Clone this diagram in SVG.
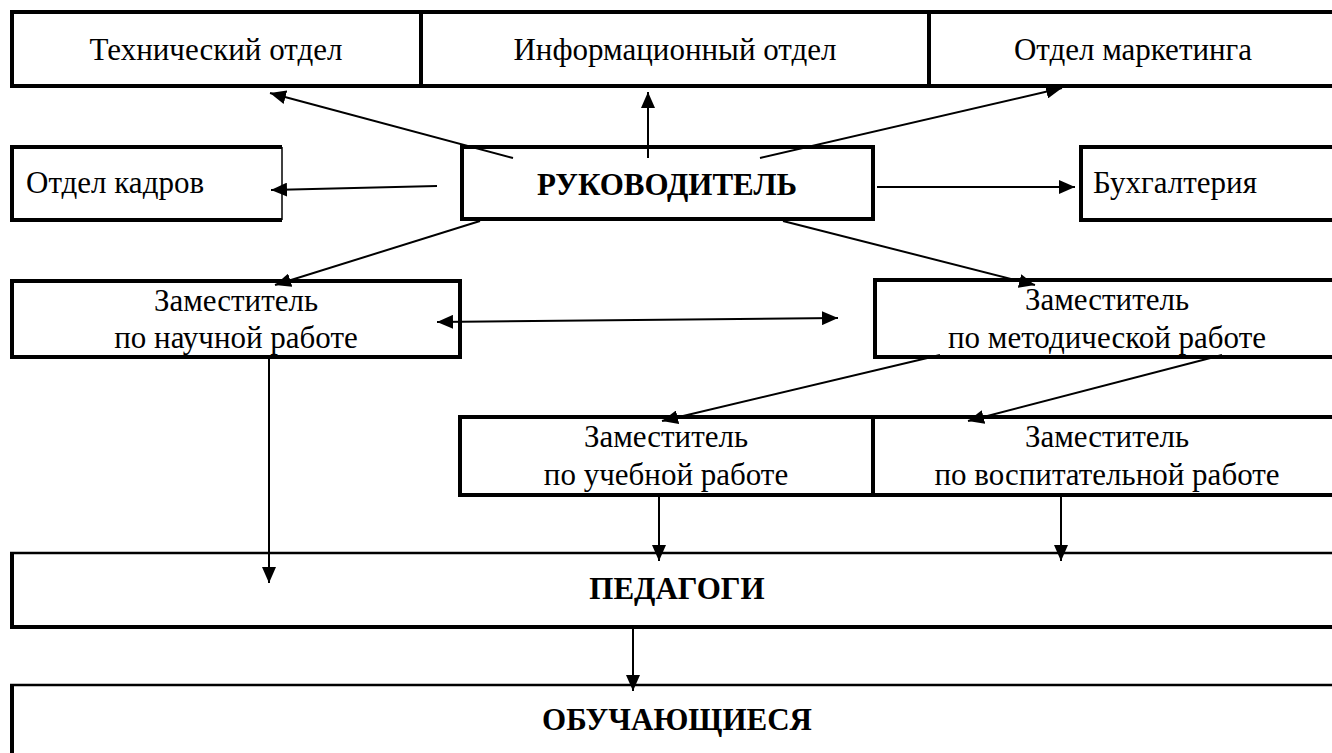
<svg xmlns="http://www.w3.org/2000/svg" width="1332" height="753" viewBox="0 0 1332 753">
<style>
.bx{fill:#fff;stroke:#000;stroke-width:4}
.ln{fill:none;stroke:#000}
.t{font-size:31px;fill:#000}
.c{text-anchor:middle}
.b{font-weight:bold}
.cn line{stroke:#000;stroke-width:2;marker-end:url(#ah)}
</style>
<defs>
<marker id="ah" markerUnits="userSpaceOnUse" markerWidth="16" markerHeight="14" refX="16" refY="7" orient="auto-start-reverse">
<path d="M0,0 L16,7 L0,14 z" fill="#000"/>
</marker>
</defs>
<rect width="1332" height="753" fill="#fff"/>
<g font-family="Liberation Serif, DejaVu Serif, serif">
<g id="tech">
<rect class="bx" x="12" y="12" width="409" height="74"/>
<text class="t c" x="216" y="60">Технический отдел</text>
</g>
<g id="info">
<rect class="bx" x="421" y="12" width="508" height="74"/>
<text class="t c" x="675" y="60">Информационный отдел</text>
</g>
<g id="market">
<rect class="bx" x="929" y="12" width="412" height="74"/>
<text class="t c" x="1133" y="60">Отдел маркетинга</text>
</g>
<g id="kadry">
<rect x="12" y="147" width="270" height="73" fill="#fff"/>
<path class="ln" stroke-width="4" d="M282,147 H12 V220 H282"/>
<line class="ln" stroke-width="1.5" x1="282" y1="147" x2="282" y2="220"/>
<text class="t" x="26" y="193">Отдел кадров</text>
</g>
<g id="head">
<rect class="bx" x="462" y="147" width="411" height="72" stroke-width="6"/>
<text class="t c b" x="667" y="195">РУКОВОДИТЕЛЬ</text>
</g>
<g id="buh">
<rect class="bx" x="1081" y="147" width="260" height="73"/>
<text class="t" x="1093" y="193">Бухгалтерия</text>
</g>
<g id="zam-nauch">
<rect class="bx" x="12" y="281" width="448" height="76"/>
<text class="t c" x="236" y="311">Заместитель</text>
<text class="t c" x="236" y="348">по научной работе</text>
</g>
<g id="zam-metod">
<rect class="bx" x="875" y="280" width="466" height="77"/>
<text class="t c" x="1107" y="310">Заместитель</text>
<text class="t c" x="1107" y="348">по методической работе</text>
</g>
<g id="zam-ucheb">
<rect class="bx" x="460" y="417" width="413" height="78"/>
<text class="t c" x="666" y="447">Заместитель</text>
<text class="t c" x="666" y="485">по учебной работе</text>
</g>
<g id="zam-vosp">
<rect class="bx" x="873" y="417" width="468" height="78"/>
<text class="t c" x="1107" y="447">Заместитель</text>
<text class="t c" x="1107" y="485">по воспитательной работе</text>
</g>
<g id="pedagogi">
<rect x="12" y="553" width="1330" height="74" fill="#fff"/>
<line class="ln" stroke-width="2.5" x1="10" y1="553" x2="1342" y2="553"/>
<line class="ln" stroke-width="4" x1="10" y1="627" x2="1342" y2="627"/>
<line class="ln" stroke-width="4" x1="12" y1="553" x2="12" y2="629"/>
<text class="t c b" x="677" y="599">ПЕДАГОГИ</text>
</g>
<g id="obuch">
<rect x="12" y="685" width="1330" height="80" fill="#fff"/>
<line class="ln" stroke-width="2.5" x1="10" y1="685" x2="1342" y2="685"/>
<line class="ln" stroke-width="4" x1="12" y1="685" x2="12" y2="765"/>
<text class="t c b" x="677" y="730">ОБУЧАЮЩИЕСЯ</text>
</g>
</g>
<g id="connectors" class="cn">
<line x1="513" y1="158" x2="270" y2="93"/>
<line x1="648" y1="158" x2="648" y2="92"/>
<line x1="760" y1="158" x2="1062" y2="88"/>
<line x1="437" y1="186" x2="271" y2="190"/>
<line x1="877" y1="187" x2="1075" y2="187"/>
<line x1="480" y1="221" x2="275" y2="285"/>
<line x1="783" y1="221" x2="1035" y2="285"/>
<line x1="437" y1="322" x2="838" y2="318" marker-start="url(#ah)"/>
<line x1="940" y1="355" x2="662" y2="421"/>
<line x1="1222" y1="355" x2="968" y2="421"/>
<line x1="269" y1="357" x2="269" y2="583"/>
<line x1="659" y1="497" x2="659" y2="561"/>
<line x1="1061" y1="497" x2="1061" y2="561"/>
<line x1="633" y1="629" x2="633" y2="691"/>
</g>
</svg>
